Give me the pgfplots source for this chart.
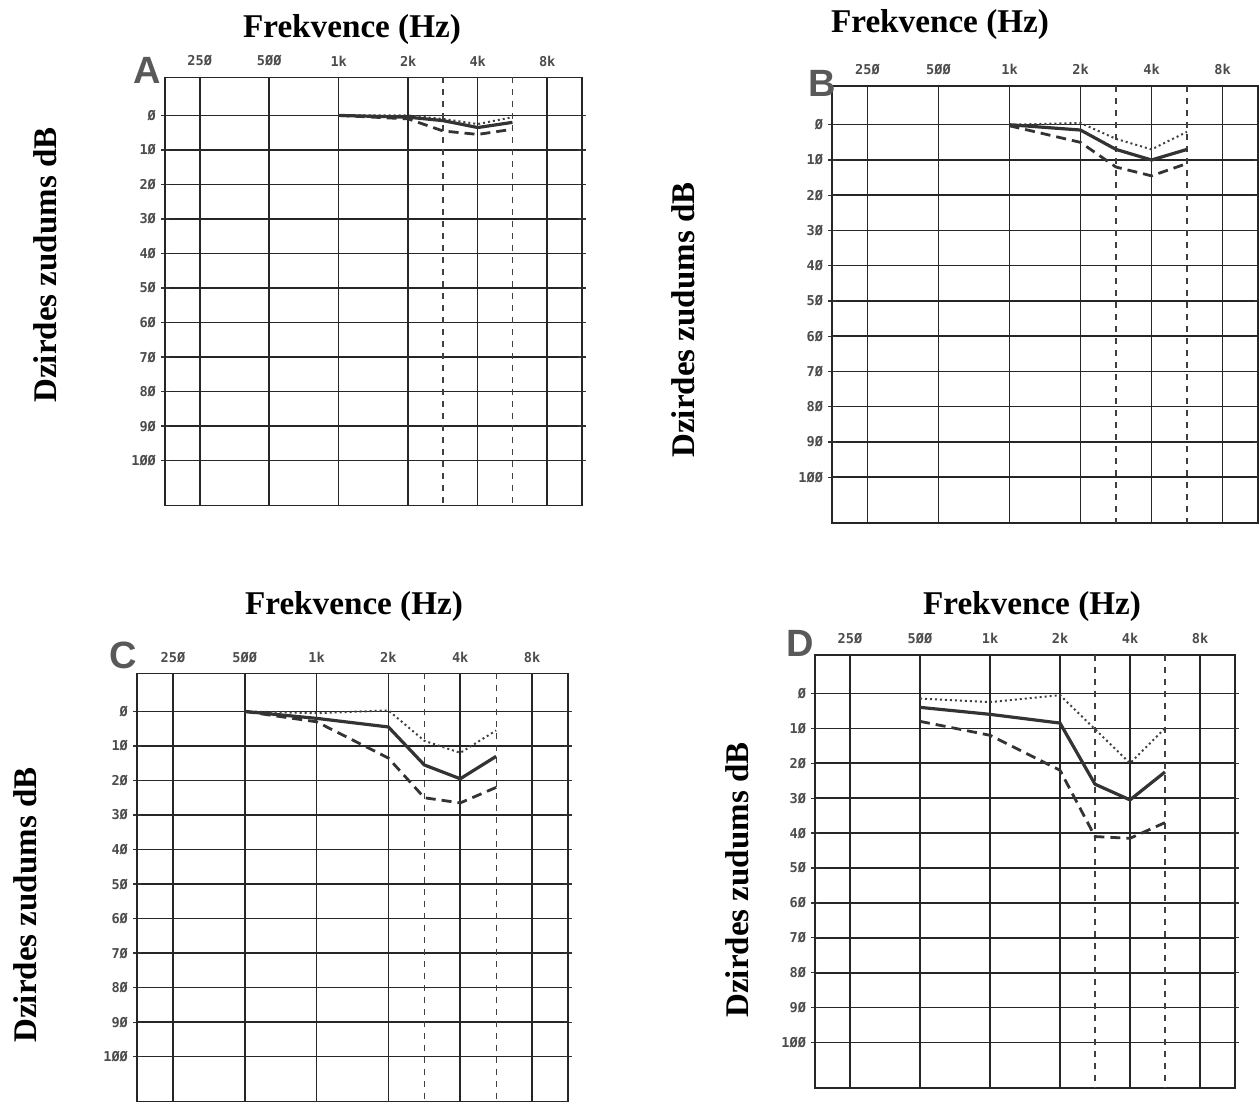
\documentclass[border=0pt]{standalone}
\usepackage{pgfplots}
\pgfplotsset{compat=1.18}
\usepackage{fontspec}
\setmainfont{Liberation Serif}
\setsansfont{Liberation Sans}
\newfontfamily\tickfont{DejaVu Sans Mono}
\pgfplotsset{
  aud/.style={
    scale only axis, anchor=north west,
    xmin=-0.5, xmax=5.5, ymin=-11, ymax=113, y dir=reverse,
    xtick={0,1,2,3,4,5}, xticklabels={25Ø,5ØØ,1k,2k,4k,8k}, xticklabel pos=right,
    ytick={0,10,...,100}, yticklabels={Ø,1Ø,2Ø,3Ø,4Ø,5Ø,6Ø,7Ø,8Ø,9Ø,1ØØ},
    grid=major, major grid style={black!85, line width=0.75pt},
    axis line style={black!85, line width=0.85pt},
    x tick style={draw=none},
    y tick style={black!80, line width=0.6pt}, major tick length=4pt, tick align=center,
    ticklabel style={font=\tickfont\bfseries\fontsize{6.8}{7}\selectfont, text=black!70},
    yticklabel style={xshift=1pt},
    extra x ticks={3.5,4.5}, extra x tick labels={},
    extra x tick style={grid=major, major grid style={black!75, line width=0.6pt, dash pattern=on 3pt off 3pt}},
  },
  sol/.style={black!80, line width=1.6pt, mark=none},
  dsh/.style={black!80, line width=1.4pt, dash pattern=on 5pt off 3pt, mark=none},
  dtt/.style={black!75, line width=1pt, dash pattern=on 1pt off 1.5pt, mark=none},
}
\begin{document}
\begin{tikzpicture}[x=0.5pt,y=0.5pt]
\path[use as bounding box] (0,0) rectangle (1259,1111);
% Panel A
\begin{axis}[aud, at={(82.5pt,516.75pt)}, width=208.5pt, height=214pt]
\addplot[dtt] coordinates {(2,0) (3,0) (3.5,1) (4,2.5) (4.5,0.5)};
\addplot[dsh] coordinates {(2,0) (3,1) (3.5,4.5) (4,5.5) (4.5,4)};
\addplot[sol] coordinates {(2,0) (3,0.5) (3.5,1.5) (4,3.5) (4.5,2)};
\end{axis}
% Panel B
\begin{axis}[aud, at={(416pt,512.5pt)}, width=213pt, height=218.5pt]
\addplot[dtt] coordinates {(2,0) (3,-0.5) (3.5,4) (4,7) (4.5,2)};
\addplot[dsh] coordinates {(2,0.3) (3,5) (3.5,12) (4,14.5) (4.5,11)};
\addplot[sol] coordinates {(2,0) (3,1.5) (3.5,7) (4,10) (4.5,7)};
\end{axis}
% Panel C
\begin{axis}[aud, at={(68.5pt,218.75pt)}, width=215.5pt, height=214pt]
\addplot[dtt] coordinates {(1,0) (2,0.5) (3,-0.3) (3.5,8.5) (4,12) (4.5,5.5)};
\addplot[dsh] coordinates {(1,0) (2,3) (3,13.5) (3.5,25) (4,26.5) (4.5,22)};
\addplot[sol] coordinates {(1,0) (2,2) (3,4.5) (3.5,15.5) (4,19.5) (4.5,13)};
\end{axis}
% Panel D
\begin{axis}[aud, at={(407.5pt,228pt)}, width=210pt, height=216.5pt]
\addplot[dtt] coordinates {(1,1.5) (2,2.5) (3,0.5) (4,20) (4.5,10)};
\addplot[dsh] coordinates {(1,8) (2,12) (3,22) (3.5,41) (4,41.5) (4.5,37)};
\addplot[sol] coordinates {(1,4) (2,6) (3,8.5) (3.5,26) (4,30.5) (4.5,22.5)};
\end{axis}
% titles
\foreach \px/\py in {352/1081, 940/1086, 354/504, 1032/504}
  \node[font=\bfseries\fontsize{16.6}{20}\selectfont] at (\px,\py) {Frekvence (Hz)};
\foreach \px/\py in {45/846, 683/791, 25/206, 737/231}
  \node[rotate=90, font=\bfseries\fontsize{16.5}{20}\selectfont] at (\px,\py) {Dzirdes zudums dB};
% panel letters
\node[font=\sffamily\bfseries\fontsize{19}{22}\selectfont, text=black!65] at (147,1041) {A};
\node[font=\sffamily\bfseries\fontsize{19}{22}\selectfont, text=black!65] at (822,1028) {B};
\node[font=\sffamily\bfseries\fontsize{19}{22}\selectfont, text=black!65] at (123,456) {C};
\node[font=\sffamily\bfseries\fontsize{19}{22}\selectfont, text=black!65] at (800,468) {D};
\end{tikzpicture}
\end{document}
